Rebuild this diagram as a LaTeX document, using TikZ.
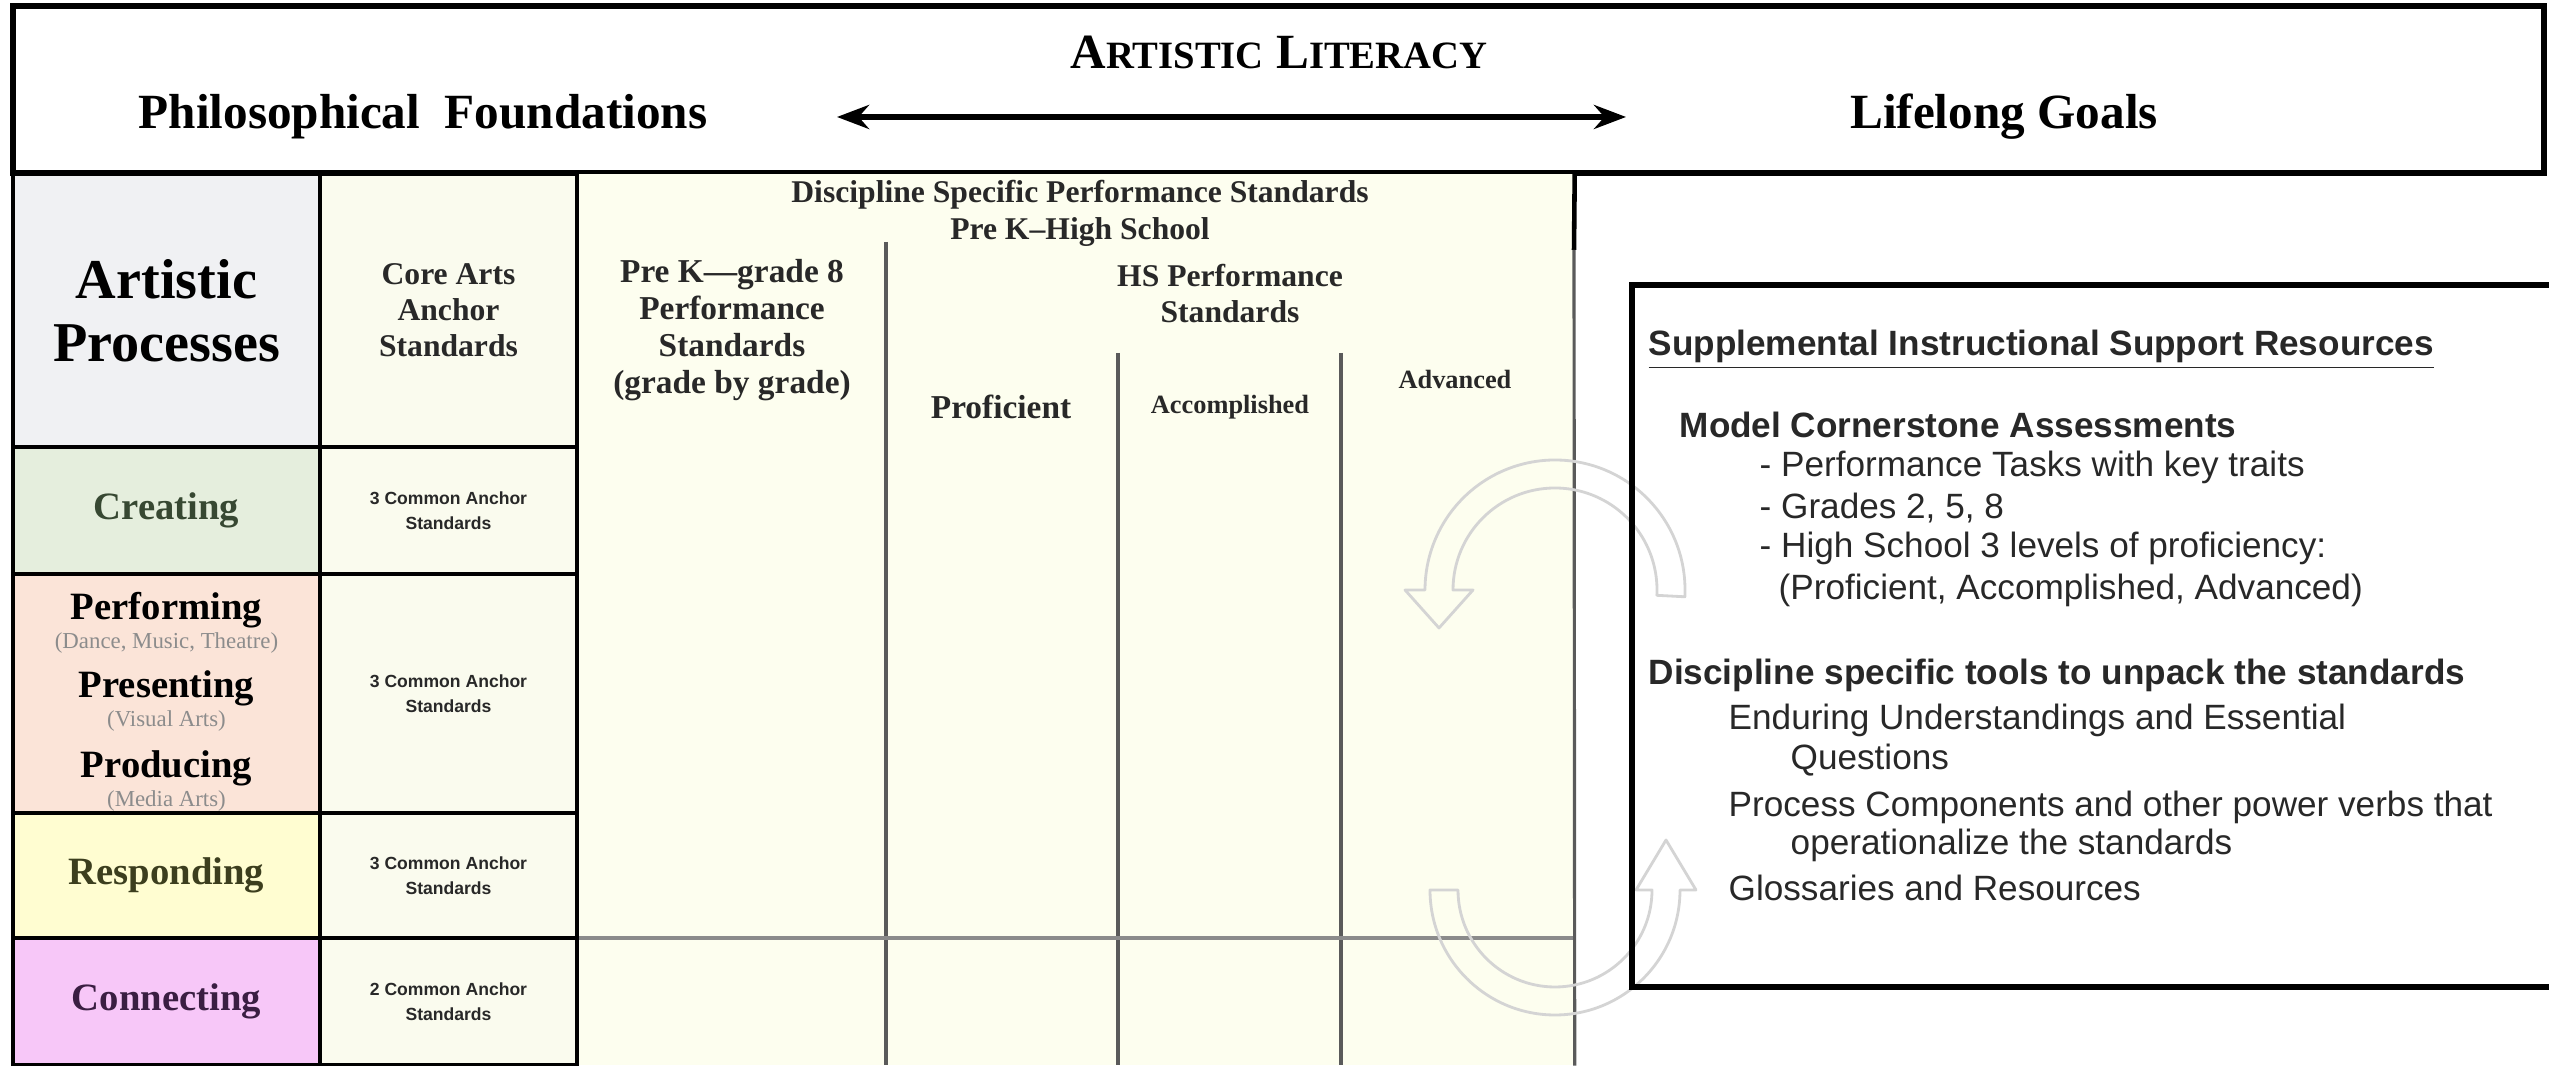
\documentclass[tikz,border=0pt]{standalone}
\usepackage{fontspec}
\setmainfont{Liberation Serif}
\setsansfont{Liberation Sans}
\usepackage{tikz}
\usetikzlibrary{arrows.meta,positioning,calc}
\definecolor{alGrey}   {RGB}{240,241,243}
\definecolor{alGreen}  {RGB}{229,238,221}
\definecolor{alPeach}  {RGB}{251,228,216}
\definecolor{alYellow} {RGB}{255,253,209}
\definecolor{alPink}   {RGB}{247,199,248}
\definecolor{alCream}  {RGB}{250,251,238}
\definecolor{alCreamM} {RGB}{253,254,239}
\definecolor{alInk}    {RGB}{ 40, 40, 40}
\definecolor{alRule}   {RGB}{ 90, 90, 90}
\definecolor{alFaint}  {RGB}{212,212,212}
\definecolor{alGreenT} {RGB}{ 55, 72, 50}
\definecolor{alOliveT} {RGB}{ 60, 62, 30}
\definecolor{alPurpT}  {RGB}{ 58, 30, 66}
\definecolor{alNote}   {RGB}{140,140,140}

\begin{document}
\begin{tikzpicture}[
  >={Stealth[length=3.2mm,width=2.4mm]},
  every node/.style={inner sep=0pt},
  tcell/.style={draw=black,line width=1.3pt,align=center},
  proc/.style ={tcell,minimum width=3.07cm,
                font=\bfseries\fontsize{11}{13}\selectfont},
  anch/.style ={tcell,minimum width=2.57cm,fill=alCream,text=alInk,
                font=\sffamily\bfseries\fontsize{5}{7}\selectfont},
  subnote/.style={text=alNote,font=\fontsize{6.5}{7}\selectfont},
  hdr/.style  ={align=center,text=alInk,
                font=\bfseries\fontsize{9}{10.5}\selectfont},
  band/.style ={font=\bfseries\fontsize{14}{16}\selectfont},
  res/.style  ={anchor=west,text=alInk,
                font=\sffamily\fontsize{10}{12}\selectfont},
  resB/.style ={res,font=\sffamily\bfseries\fontsize{10}{12}\selectfont},
  gridline/.style={draw=alRule,line width=0.9pt},
  fadedarrow/.style={draw=alFaint,line width=0.8pt,line join=round}
]
\useasboundingbox (0,0) rectangle (25.49,10.66);

% top band
\draw[line width=1.5pt] (0.13,8.93) rectangle (25.44,10.60);
\node[band] (lit) at (12.79,10.14)
  {A{\fontsize{11}{13}\selectfont RTISTIC} L{\fontsize{11}{13}\selectfont ITERACY}};
\node[band] (phil) at (4.23,9.49) {Philosophical\ \ Foundations};
\node[band] (life) at (20.04,9.49) {Lifelong Goals};
\coordinate (arrL) at (8.37,9.49);
\coordinate (arrR) at (16.26,9.49);
\draw[<->,line width=1.6pt] (arrL) -- (arrR);

% performance standards block
\node[fill=alCreamM,minimum width=9.97cm,minimum height=8.91cm] (dsps) at (10.755,4.465) {};
\foreach \x/\y in {8.86/8.24,11.18/7.13,13.41/7.13}
  \draw[gridline] (\x,\y) -- (\x,0.01);
\draw[gridline,draw=alRule!70] (dsps.west |- 0,1.28) -- (dsps.east |- 0,1.28);
\draw[line width=1.3pt] (dsps.north east) -- (15.74,8.16);
\draw[gridline] (15.74,8.16) -- (dsps.south east);

\node[hdr] (dspsT) at (10.80,8.525)
  {Discipline Specific Performance Standards\\Pre K--High School};
\node[hdr,font=\bfseries\fontsize{9.5}{10.5}\selectfont] (prek) at (7.32,7.36)
  {Pre K---grade 8\\Performance\\Standards\\(grade by grade)};
\node[hdr] (hsps) at (12.30,7.725) {HS Performance\\Standards};
\node[hdr,font=\bfseries\fontsize{9.5}{11}\selectfont] (prof) at (10.01,6.59) {Proficient};
\node[hdr,font=\bfseries\fontsize{7.5}{9}\selectfont] (accm) at (12.30,6.59) {Accomplished};
\node[hdr,font=\bfseries\fontsize{7.5}{9}\selectfont] (adv) at (14.55,6.86) {Advanced};

% artistic processes and anchor standards
\node[proc,fill=alGrey,minimum height=2.73cm,
      font=\bfseries\fontsize{16}{18}\selectfont] (apHd) at (1.665,7.555) {Artistic\\Processes};
\node[anch,minimum height=2.73cm,
      font=\bfseries\fontsize{9}{10.2}\selectfont] (caHd) at (4.485,7.555) {Core Arts\\Anchor\\Standards};

\node[proc,fill=alGreen,text=alGreenT,minimum height=1.27cm] (creat) at (1.665,5.555) {Creating};
\node[proc,fill=alPeach,minimum height=2.39cm] (perf) at (1.665,3.725) {};
\node[proc,fill=alYellow,text=alOliveT,minimum height=1.25cm] (resp) at (1.665,1.905) {Responding};
\node[proc,fill=alPink,text=alPurpT,minimum height=1.27cm] (conn) at (1.665,0.645) {Connecting};

\foreach \t/\n/\y [count=\i] in {Performing/{(Dance, Music, Theatre)}/4.56,
                                 Presenting/{(Visual Arts)}/3.78,
                                 Producing/{(Media Arts)}/2.98}{
  \node[font=\bfseries\fontsize{11}{13}\selectfont] (ppT\i) at (1.665,\y) {\t};
  \node[subnote] (ppN\i) at (1.665,\y-0.33) {\n};
}

\node[anch,minimum height=1.27cm] (anc1) at (4.485,5.555) {3 Common Anchor\\Standards};
\node[anch,minimum height=2.39cm] (anc2) at (4.485,3.725) {3 Common Anchor\\Standards};
\node[anch,minimum height=1.25cm] (anc3) at (4.485,1.905) {3 Common Anchor\\Standards};
\node[anch,minimum height=1.27cm] (anc4) at (4.485,0.645) {2 Common Anchor\\Standards};

% faded loop arrows
\coordinate (loopA) at (15.55,4.76);
\coordinate (loopB) at (15.55,1.76);
\draw[fadedarrow] ($(loopA)+(-3:1.30)$) arc[start angle=-3,end angle=180,radius=1.30]
  -- ++(-0.20,0) -- ($(loopA)+(-1.16,-0.38)$) -- ($(loopA)+(-0.82,0)$) -- ($(loopA)+(-1.02,0)$)
  arc[start angle=180,end angle=-3,radius=1.02] -- cycle;
\draw[fadedarrow] ($(loopB)+(180:1.25)$) arc[start angle=180,end angle=360,radius=1.25]
  -- ++(0.16,0) -- ($(loopB)+(1.11,0.50)$) -- ($(loopB)+(0.81,0)$) -- ($(loopB)+(0.97,0)$)
  arc[start angle=360,end angle=180,radius=0.97] -- cycle;

% support resources panel
\draw[line width=1.6pt] (25.60,7.81) -- (16.32,7.81) -- (16.32,0.79) -- (25.60,0.79);
\node[resB] (srHd)  at (16.48,7.16) {\underline{Supplemental Instructional Support Resources}};
\node[resB] (mcaHd) at (16.79,6.41) {Model Cornerstone Assessments};
\node[res]  (mca1)  at (17.59,5.99) {- Performance Tasks with key traits};
\node[res]  (mca2)  at (17.59,5.58) {- Grades 2, 5, 8};
\node[res]  (mca3)  at (17.59,5.18) {- High School 3 levels of proficiency:};
\node[res]  (mca4)  at (17.78,4.76) {(Proficient, Accomplished, Advanced)};
\node[resB] (dstHd) at (16.48,3.91) {Discipline specific tools to unpack the standards};
\node[res]  (dst1)  at (17.28,3.46) {Enduring Understandings and Essential};
\node[res]  (dst2)  at (17.90,3.06) {Questions};
\node[res]  (dst3)  at (17.28,2.59) {Process Components and other power verbs that};
\node[res]  (dst4)  at (17.90,2.21) {operationalize the standards};
\node[res]  (dst5)  at (17.28,1.78) {Glossaries and Resources};
\end{tikzpicture}
\end{document}
